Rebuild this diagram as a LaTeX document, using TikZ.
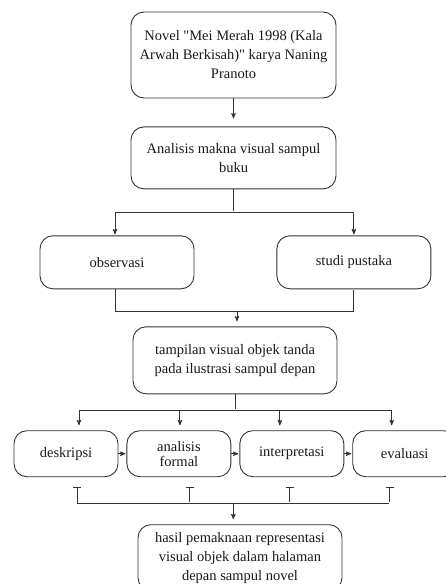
\documentclass[tikz,border=0pt]{standalone}
\usepackage{fontspec}
\setmainfont{Liberation Serif}
\usetikzlibrary{arrows,positioning,calc}

\begin{document}
\begin{tikzpicture}[>=stealth',shorten >=1pt,auto,node distance=10mm,x=1pt,y=1pt,
    box/.style={draw=black!80,line width=0.9pt,rounded corners=13pt,align=center,
      minimum width=205pt,font=\fontsize{14.5}{19}\selectfont,text=black!90},
    smallbox/.style={box,minimum width=104pt,minimum height=46pt,
      font=\fontsize{14.5}{15}\selectfont},
    line/.style={draw=black!80,line width=0.9pt}]

    \useasboundingbox (0,0) rectangle (446,-584);

    % nodes
    \node[box,minimum height=86pt] (novel) at (233.5,-55)
        {Novel \textquotedbl Mei Merah 1998 (Kala\\Arwah Berkisah)\textquotedbl{} karya Naning\\Pranoto};
    \node[box,minimum height=62pt] (analisis) [below=28pt of novel]
        {Analisis makna visual sampul\\buku};
    \node[box,minimum width=154pt,minimum height=53pt] (obs)
        [below=46pt of analisis,xshift=-116.5pt] {observasi};
    \node[box,minimum width=154pt,minimum height=53pt] (studi)
        [right=82pt of obs] {studi pustaka};
    \node[box,minimum width=204pt,minimum height=67pt] (tampilan)
        [below=137pt of analisis,xshift=1.5pt]
        {tampilan visual objek tanda\\pada ilustrasi sampul depan};
    \node[smallbox] (desk) [below=36pt of tampilan,xshift=-169pt] {deskripsi};
    \node[smallbox] (formal) [right=8pt of desk] {analisis\\formal};
    \node[smallbox] (interp) [right=8pt of formal] {interpretasi};
    \node[smallbox] (eval) [right=8pt of interp] {evaluasi};
    \node[box,minimum width=204pt,minimum height=66pt] (hasil)
        [below=130pt of tampilan,xshift=5pt]
        {hasil pemaknaan representasi\\visual objek dalam halaman\\depan sampul novel};

    % helper points
    \coordinate (s1) at ($(analisis.south)+(0,-23)$);
    \coordinate (j1) at ($(obs.south)!0.5!(studi.south)+(1.5,-22)$);
    \coordinate (s2) at ($(tampilan.south)+(0,-16)$);
    \coordinate (t1) at ($(desk.south)+(11,-10)$);
    \coordinate (t2) at ($(formal.south)+(11,-10)$);
    \coordinate (t3) at ($(interp.south)+(-2,-10)$);
    \coordinate (t4) at ($(eval.south)+(-15,-10)$);
    \coordinate (j2) at ($(t1)!0.5!(t4)+(0,-16)$);

    % connectors
    \path[line,->,shorten >=8pt] (novel) edge (analisis);
    \draw[line] (analisis) -- (s1);
    \draw[line,->] (s1) -| ([xshift=-2pt]obs.north);
    \draw[line,->] (s1) -| (studi.north);
    \draw[line] ([xshift=-2pt]obs.south) -- ++(0,-22) -| (studi.south);
    \draw[line,->,shorten >=5pt] (j1) -- (j1 |- tampilan.north);
    \draw[line] (tampilan) -- (s2);
    \draw[line,->,shorten >=5pt] (s2) -| ([xshift=13pt]desk.north);
    \draw[line,->,shorten >=5pt] (s2) -| ([xshift=1pt]formal.north);
    \draw[line,->,shorten >=5pt] (s2) -| ([xshift=-12pt]interp.north);
    \draw[line,->,shorten >=5pt] (s2) -| ([xshift=-13pt]eval.north);
    \path[line,->] (desk) edge (formal)
                   (formal) edge (interp)
                   (interp) edge (eval);
    \draw[line,|-] (t1) -- ++(0,-16) -- ($(t4)+(0,-16)$);
    \draw[line,|-] (t2) -- ++(0,-16);
    \draw[line,|-] (t3) -- ++(0,-16);
    \draw[line,|-] (t4) -- ++(0,-16);
    \draw[line,->,shorten >=5pt] (j2) -- (j2 |- hasil.north);
\end{tikzpicture}
\end{document}
